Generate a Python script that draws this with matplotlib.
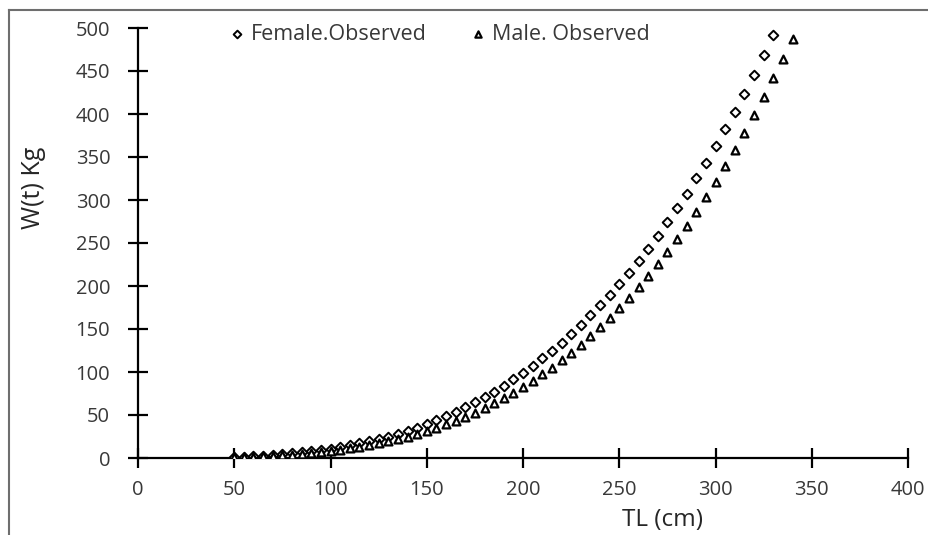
import numpy as np
import matplotlib
matplotlib.use("Agg")
import matplotlib.pyplot as plt
from matplotlib.lines import Line2D

plt.rcParams['font.family'] = ['Open Sans', 'DejaVu Sans']

# total length (cm), every 5 cm
tl_female = list(range(50, 335, 5))
tl_male = list(range(50, 345, 5))

# observed weight (kg)
w_female = [1.2, 1.6, 2.1, 2.7, 3.4, 4.3, 5.3, 6.4, 7.7, 9.1,
            10.8, 12.6, 14.6, 16.9, 19.3, 22.0, 24.9, 28.1, 31.6, 35.4,
            39.4, 43.8, 48.5, 53.5, 58.9, 64.6, 70.7, 77.1, 84.0, 91.3,
            99.0, 107.1, 115.7, 124.8, 134.3, 144.3, 154.8, 165.9, 177.4, 189.5,
            202.2, 215.4, 229.2, 243.6, 258.6, 274.3, 290.6, 307.5, 325.1, 343.4,
            362.4, 382.0, 402.4, 423.6, 445.5, 468.1, 492.0]
w_male = [0.8, 1.1, 1.5, 1.9, 2.5, 3.1, 3.8, 4.7, 5.7, 6.8,
          8.1, 9.5, 11.1, 12.9, 14.9, 17.1, 19.5, 22.1, 25.0, 28.1,
          31.5, 35.1, 39.1, 43.3, 47.9, 52.8, 58.0, 63.5, 69.5, 75.8,
          82.5, 89.6, 97.1, 105.1, 113.5, 122.4, 131.8, 141.6, 152.0, 162.8,
          174.2, 186.2, 198.7, 211.8, 225.5, 239.8, 254.7, 270.2, 286.4, 303.3,
          320.9, 339.2, 358.1, 377.9, 398.4, 419.6, 441.6, 464.4, 487.0]

xticks = [0, 50, 100, 150, 200, 250, 300, 350, 400]
yticks = [0, 50, 100, 150, 200, 250, 300, 350, 400, 450, 500]

W, H = 929, 535
fig = plt.figure(figsize=(W / 100, H / 100), dpi=100)
ax = fig.add_axes([138 / W, 1 - 458 / H, 770 / W, 430 / H])

ax.scatter(tl_female, w_female, marker='D', s=24, facecolors='white',
           edgecolors='black', linewidths=1.4, label='Female.Observed', zorder=3)
ax.scatter(tl_male, w_male, marker='^', s=32, facecolors='white',
           edgecolors='black', linewidths=1.6, label='Male. Observed', zorder=3)

ax.set_xlim(0, 400)
ax.set_ylim(0, 500)
ax.set_xticks(xticks)
ax.set_yticks(yticks)

for s in ['top', 'right']:
    ax.spines[s].set_visible(False)
for s in ['left', 'bottom']:
    ax.spines[s].set_linewidth(1.6)
    ax.spines[s].set_color('black')

txt = '#383838'
ax.tick_params(axis='both', direction='inout', length=14, width=1.6,
               labelsize=14.5, labelcolor=txt, color='black')
ax.tick_params(axis='x', pad=9)
ax.tick_params(axis='y', pad=13)

ax.set_xlabel('TL (cm)', fontsize=17.5, color='#262626', va='top')
ax.xaxis.set_label_coords(663 / W, 1 - 508 / H, transform=fig.transFigure)
ax.set_ylabel('W(t) Kg', fontsize=18, color='#262626', va='center')
ax.yaxis.set_label_coords(33 / W, 1 - 188 / H, transform=fig.transFigure)

leg = ax.legend(loc='center', bbox_to_anchor=(437 / W, 1 - 34 / H),
                bbox_transform=fig.transFigure, ncol=2, frameon=False,
                fontsize=15.5, handletextpad=0.05, columnspacing=1.8,
                handlelength=1.2, markerscale=0.8)
for t in leg.get_texts():
    t.set_color(txt)

# outer chart border (top and left edges show in the crop)
fig.add_artist(Line2D([9 / W, 1], [1 - 10 / H, 1 - 10 / H],
                      transform=fig.transFigure, color='#6e6e6e', lw=1.5))
fig.add_artist(Line2D([9 / W, 9 / W], [0, 1 - 10 / H],
                      transform=fig.transFigure, color='#6e6e6e', lw=1.5))

fig.savefig('out.png', dpi=100)
